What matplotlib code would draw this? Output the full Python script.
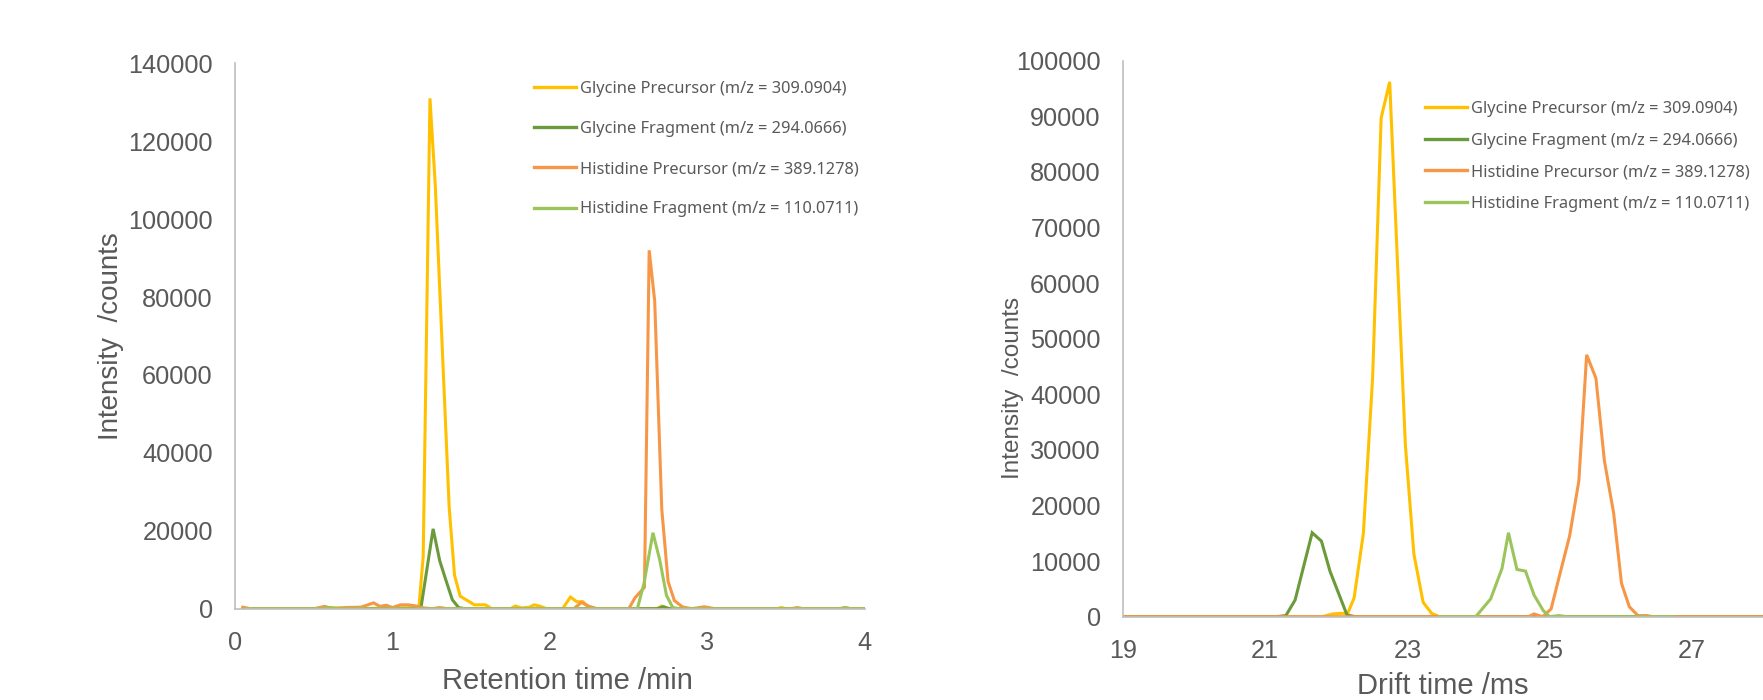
import matplotlib
matplotlib.use("Agg")
import matplotlib.pyplot as plt

# colours (Excel-ish palette)
c_gly_prec = "#FFC000"
c_gly_frag = "#6A9A3A"
c_his_prec = "#F79646"
c_his_frag = "#9BC55A"
grey = "#595959"

labels = ["Glycine Precursor (m/z = 309.0904)",
          "Glycine Fragment (m/z = 294.0666)",
          "Histidine Precursor (m/z = 389.1278)",
          "Histidine Fragment (m/z = 110.0711)"]

# ---- left panel: retention time (min) ----
gp_rt = [0.05, 0.5, 0.6, 0.75, 1.0, 1.15, 1.167, 1.195, 1.238, 1.272, 1.316, 1.36,
         1.394, 1.43, 1.48, 1.52, 1.59, 1.63, 1.75, 1.78, 1.82, 1.87, 1.9, 1.94,
         1.98, 2.08, 2.13, 2.17, 2.21, 2.25, 2.6, 2.68, 2.71, 2.75, 3.44, 3.47,
         3.5, 4.0]
gp_rt_int = [0, 0, 300, 0, 200, 300, 0, 13400, 131000, 108500, 67000, 26000,
             8600, 3200, 2000, 1000, 1000, 0, 0, 700, 200, 400, 1000, 600,
             0, 0, 3000, 1800, 1800, 0, 0, 0, 700, 0, 0, 300,
             0, 0]

gf_rt = [0.05, 1.18, 1.258, 1.30, 1.337, 1.38, 1.42, 1.46, 2.68, 2.72, 2.76, 4.0]
gf_rt_int = [0, 0, 20500, 12300, 7600, 2300, 300, 0, 0, 500, 0, 0]

hp_rt = [0.05, 0.1, 0.5, 0.57, 0.62, 0.7, 0.8, 0.88, 0.92, 0.96, 1.0, 1.05, 1.1,
         1.15, 1.2, 1.25, 1.3, 1.35, 1.4, 2.15, 2.2, 2.25, 2.3, 2.5, 2.54, 2.6,
         2.63, 2.665, 2.71, 2.75, 2.79, 2.84, 2.9, 2.98, 3.05, 3.53, 3.57, 3.61,
         3.84, 3.87, 3.9, 4.0]
hp_rt_int = [400, 0, 0, 600, 0, 300, 400, 1500, 600, 900, 300, 1000, 1000,
             700, 200, 0, 300, 0, 0, 0, 1600, 600, 0, 0, 2800, 5500,
             92000, 79000, 25500, 7000, 2100, 500, 0, 500, 0, 0, 300, 0,
             0, 300, 0, 0]

hf_rt = [0.07, 0.55, 0.6, 0.65, 2.555, 2.597, 2.654, 2.697, 2.74, 2.78, 2.82,
         3.85, 3.88, 3.91, 4.0]
hf_rt_int = [0, 0, 300, 0, 0, 6500, 19500, 12500, 3400, 300, 0, 0, 300, 0, 0]

# ---- right panel: drift time (ms) ----
gp_dt = [19.0, 21.8, 21.95, 22.05, 22.16, 22.25, 22.38, 22.51, 22.63, 22.75,
         22.97, 23.09, 23.22, 23.34, 23.45, 28.2]
gp_dt_int = [0, 0, 500, 600, 600, 3400, 15000, 43000, 89700, 96200,
             31000, 11300, 2600, 600, 0, 0]

gf_dt = [19.0, 21.16, 21.29, 21.42, 21.66, 21.79, 21.91, 22.15, 22.27, 28.2]
gf_dt_int = [0, 0, 200, 3000, 15100, 13600, 8200, 300, 0, 0]

hp_dt = [19.0, 24.7, 24.78, 24.9, 25.02, 25.15, 25.28, 25.41, 25.52, 25.65,
         25.77, 25.90, 26.01, 26.12, 26.24, 26.37, 26.45, 28.2]
hp_dt_int = [0, 0, 500, 0, 1400, 8000, 14500, 24400, 47100, 42900,
             28000, 18600, 6000, 1800, 200, 200, 0, 0]

hf_dt = [23.45, 23.96, 24.17, 24.33, 24.42, 24.54, 24.66, 24.78, 24.91, 25.0,
         25.13, 25.25, 26.74]
hf_dt_int = [0, 0, 3200, 8700, 15100, 8500, 8200, 3900, 1100, 0, 200, 0, 0]

plt.rcParams["font.family"] = ["Liberation Sans", "DejaVu Sans"]

fig = plt.figure(figsize=(17.63, 7), dpi=100)
ax1 = fig.add_axes([0.1333, 0.1304, 0.3573, 0.7792])
ax2 = fig.add_axes([0.637, 0.1190, 0.3630, 0.7943])

lw = 2.2
for ax, series in [
    (ax1, [(gp_rt, gp_rt_int), (gf_rt, gf_rt_int), (hp_rt, hp_rt_int), (hf_rt, hf_rt_int)]),
    (ax2, [(gp_dt, gp_dt_int), (gf_dt, gf_dt_int), (hp_dt, hp_dt_int), (hf_dt, hf_dt_int)]),
]:
    for (x, y), col, lab in zip(series, [c_gly_prec, c_gly_frag, c_his_prec, c_his_frag], labels):
        ax.plot(x, y, color=col, lw=lw, label=lab, solid_joinstyle="miter")
    for s in ["top", "right"]:
        ax.spines[s].set_visible(False)
    ax.spines["left"].set_color("#BFBFBF")
    ax.spines["bottom"].set_color("#BFBFBF")
    ax.spines["left"].set_linewidth(1.2)
    ax.spines["bottom"].set_linewidth(1.2)
    ax.tick_params(length=0, pad=16, labelsize=18.2, labelcolor=grey)

ax1.set_xlim(0, 4)
ax1.set_ylim(0, 140000)
ax1.set_xticks([0, 1, 2, 3, 4])
ax1.set_yticks(range(0, 140001, 20000))
ax1.set_xlabel("Retention time /min", fontsize=21, color=grey, va="center")
ax1.set_ylabel("Intensity  /counts", fontsize=20, color=grey, va="center")
ax1.xaxis.set_label_coords(0.527, -0.133)
ax1.yaxis.set_label_coords(-0.197, 0.5)

ax2.set_xlim(19, 28)
ax2.set_ylim(0, 100000)
ax2.set_xticks([19, 21, 23, 25, 27])
ax2.set_yticks(range(0, 100001, 10000))
ax2.set_xlabel("Drift time /ms", fontsize=21, color=grey, va="center")
ax2.set_ylabel("Intensity  /counts", fontsize=17.5, color=grey, va="center")
ax2.xaxis.set_label_coords(0.4994, -0.124)
ax2.yaxis.set_label_coords(-0.172, 0.411)

leg_font = {"family": ["Noto Sans", "DejaVu Sans"], "size": 11.8}
leg1 = ax1.legend(loc="upper left", bbox_to_anchor=(534 / 1763, 1 - 81 / 700),
                  bbox_transform=fig.transFigure, frameon=False, prop=leg_font,
                  handlelength=2.55, handletextpad=0.25, labelspacing=1.47,
                  borderaxespad=0, borderpad=0)
leg2 = ax2.legend(loc="upper left", bbox_to_anchor=(1425 / 1763, 1 - 101 / 700),
                  bbox_transform=fig.transFigure, frameon=False, prop=leg_font,
                  handlelength=2.55, handletextpad=0.25, labelspacing=0.95,
                  borderaxespad=0, borderpad=0)
for leg in (leg1, leg2):
    for t in leg.get_texts():
        t.set_color(grey)
    for h in leg.get_lines():
        h.set_linewidth(2.4)

fig.savefig("out.png", dpi=100)
